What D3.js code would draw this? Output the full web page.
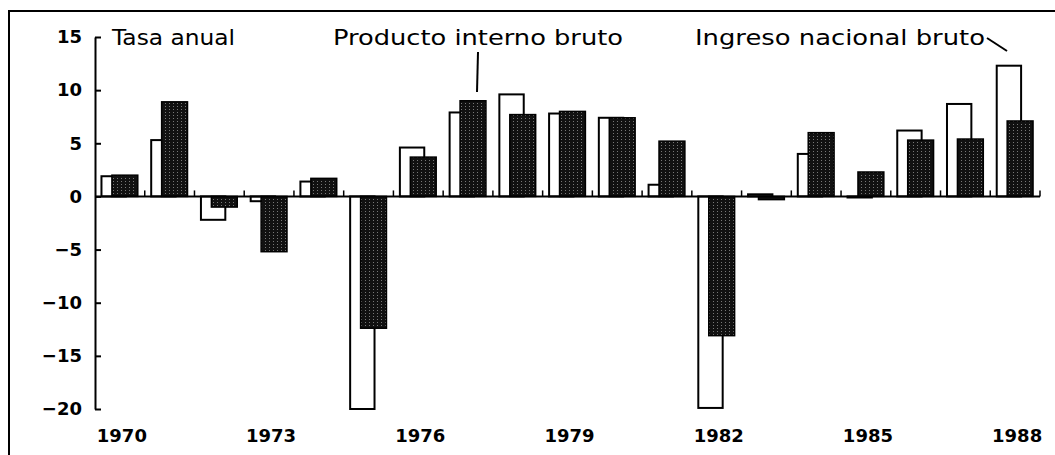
<!DOCTYPE html>
<html>
<head>
<meta charset="utf-8">
<script src="https://cdn.jsdelivr.net/npm/d3@7"></script>
<style>
  body { margin: 0; background: #fff; }
  text { font-family: "DejaVu Sans", sans-serif; fill: #000; }
</style>
</head>
<body>
<div id="chart"></div>
<script>
// tasa anual de crecimiento, 1970-1988
var years = [1970, 1971, 1972, 1973, 1974, 1975, 1976, 1977, 1978, 1979,
             1980, 1981, 1982, 1983, 1984, 1985, 1986, 1987, 1988];
// Ingreso nacional bruto (barras blancas)
var ingreso = [1.9, 5.3, -2.2, -0.45, 1.4, -20.0, 4.6, 7.9, 9.6, 7.8,
               7.4, 1.1, -19.9, 0.2, 4.0, -0.1, 6.2, 8.7, 12.3];
// Producto interno bruto (barras oscuras)
var producto = [2.0, 8.9, -1.0, -5.2, 1.7, -12.4, 3.7, 9.0, 7.7, 8.0,
                7.4, 5.2, -13.1, -0.3, 6.0, 2.3, 5.3, 5.4, 7.1];
var yTicks = [15, 10, 5, 0, -5, -10, -15, -20];
var yearLabels = [1970, 1973, 1976, 1979, 1982, 1985, 1988];

drawChart();
function drawChart(){
    var width = 1055, height = 455;

    var svg = d3.select("#chart")
      .append("svg")
        .attr("width", width)
        .attr("height", height);

    // hatch pattern for the dark bars
    var pat = svg.append("defs").append("pattern")
        .attr("id", "hatch")
        .attr("patternUnits", "userSpaceOnUse")
        .attr("width", 4)
        .attr("height", 3);
    pat.append("rect").attr("width", 4).attr("height", 3).attr("fill", "#111");
    pat.append("rect").attr("x", 1).attr("y", 1).attr("width", 1).attr("height", 1).attr("fill", "#777");

    // frame
    svg.append("path")
        .attr("d", "M9,455V11H1055")
        .attr("fill", "none")
        .attr("stroke", "#000")
        .attr("stroke-width", 2);

    var x = d3.scaleBand()
        .domain(years)
        .range([95, 1040]);

    var y = d3.scaleLinear()
        .domain([-20, 15])
        .range([409, 37]);

    var bw = x.bandwidth();

    // white bars first, dark bars on top
    svg.append("g")
      .selectAll("rect")
      .data(years)
      .enter()
      .append("rect")
        .attr("x", function(d) { return x(d) + bw * 0.13; })
        .attr("width", bw * 0.49)
        .attr("y", function(d, i) { return y(Math.max(0, ingreso[i])); })
        .attr("height", function(d, i) { return Math.abs(y(ingreso[i]) - y(0)); })
        .attr("fill", "#fff")
        .attr("stroke", "#000")
        .attr("stroke-width", 2);

    svg.append("g")
      .selectAll("rect")
      .data(years)
      .enter()
      .append("rect")
        .attr("x", function(d) { return x(d) + bw * 0.34; })
        .attr("width", bw * 0.52)
        .attr("y", function(d, i) { return y(Math.max(0, producto[i])); })
        .attr("height", function(d, i) { return Math.abs(y(producto[i]) - y(0)); })
        .attr("fill", "url(#hatch)")
        .attr("stroke", "#000")
        .attr("stroke-width", 1.5);

    // zero line with small ticks between years
    svg.append("line")
        .attr("x1", 95).attr("x2", 1040)
        .attr("y1", y(0)).attr("y2", y(0))
        .attr("stroke", "#000")
        .attr("stroke-width", 2);

    svg.append("g")
      .selectAll("line")
      .data(years)
      .enter()
      .append("line")
        .attr("x1", function(d) { return x(d) + bw; })
        .attr("x2", function(d) { return x(d) + bw; })
        .attr("y1", y(0))
        .attr("y2", y(0) - 6)
        .attr("stroke", "#000")
        .attr("stroke-width", 1.5);

    // Y axis
    var yAxis = svg.append("g")
        .attr("transform", "translate(95,0)")
        .call(d3.axisLeft(y)
            .tickValues(yTicks)
            .tickSize(-6)
            .tickSizeOuter(0)
            .tickPadding(13)
            .tickFormat(function(d) { return d < 0 ? "\u2212" + Math.abs(d) : d; }));
    yAxis.select(".domain").attr("stroke-width", 2);
    yAxis.selectAll(".tick line").attr("stroke-width", 2);
    yAxis.selectAll("text")
        .attr("font-size", 18)
        .attr("font-weight", "bold")
        .attr("font-family", "DejaVu Sans")
        .attr("fill", "#000");

    // year labels
    svg.append("g")
      .selectAll("text")
      .data(yearLabels)
      .enter()
      .append("text")
        .attr("x", function(d) { return x(d) + bw / 2 + 2; })
        .attr("y", 442)
        .attr("text-anchor", "middle")
        .attr("font-size", 18)
        .attr("font-weight", "bold")
        .text(function(d) { return d; });

    // titles
    svg.append("text")
        .attr("x", 112).attr("y", 45)
        .attr("font-size", 21)
        .attr("textLength", 123)
        .attr("lengthAdjust", "spacingAndGlyphs")
        .text("Tasa anual");

    svg.append("text")
        .attr("x", 333).attr("y", 45)
        .attr("font-size", 21)
        .attr("textLength", 290)
        .attr("lengthAdjust", "spacingAndGlyphs")
        .text("Producto interno bruto");

    svg.append("text")
        .attr("x", 695).attr("y", 45)
        .attr("font-size", 21)
        .attr("textLength", 290)
        .attr("lengthAdjust", "spacingAndGlyphs")
        .text("Ingreso nacional bruto");

    // leader lines
    svg.append("line")
        .attr("x1", 478).attr("y1", 52)
        .attr("x2", 477).attr("y2", 92)
        .attr("stroke", "#000").attr("stroke-width", 2);

    svg.append("line")
        .attr("x1", 987).attr("y1", 38)
        .attr("x2", 1007).attr("y2", 51)
        .attr("stroke", "#000").attr("stroke-width", 2);
}
</script>
</body>
</html>
